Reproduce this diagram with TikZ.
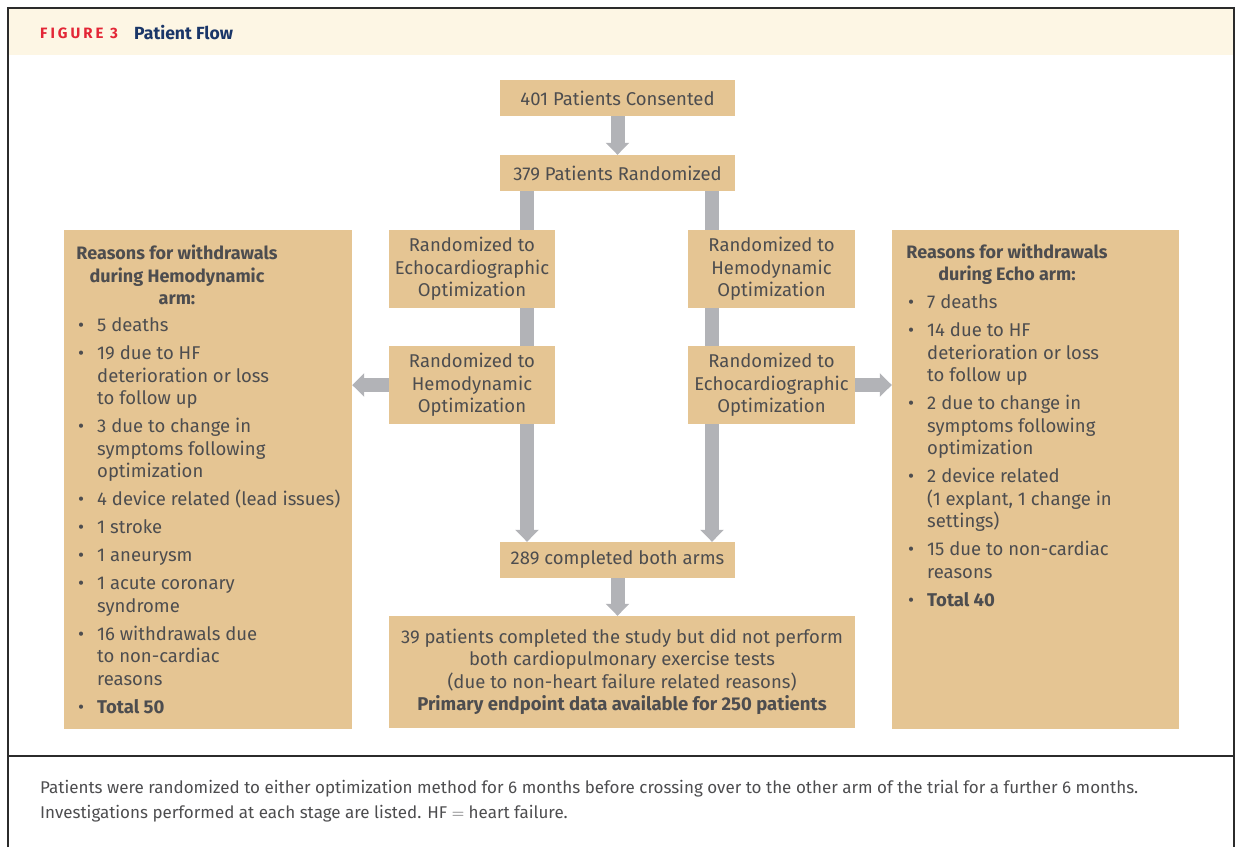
\documentclass[tikz,border=0pt]{standalone}
\usepackage{fontspec}
\setmainfont{Fira Sans}
\usetikzlibrary{arrows.meta}
\definecolor{tan}{HTML}{E5C593}
\definecolor{bar}{HTML}{B2B3B7}
\definecolor{txt}{HTML}{4D4D4F}
\definecolor{hdrbg}{HTML}{FDF6E4}
\definecolor{figred}{HTML}{E32636}
\definecolor{navy}{HTML}{1A3668}
\definecolor{frame}{HTML}{2B2B2B}
\newcommand{\bu}{\makebox[19pt][l]{\textbullet}}
\newcommand{\ind}{\hspace*{19pt}}
\begin{document}
\begin{tikzpicture}[x=1pt,y=-1pt,
  box/.style={fill=tan, draw=none, inner sep=0pt, text=txt, align=center,
    font=\fontsize{18.5}{22.5}\selectfont},
  plain/.style={inner sep=0pt, text=txt, font=\fontsize{18.5}{22.5}\selectfont},
  link/.style={draw=bar, line width=14pt, line cap=butt},
  flow/.style={link, -{Triangle[width=23pt,length=12pt]}}]
\useasboundingbox (0,0) rectangle (1237,847);
% header band and frame
\fill[hdrbg] (9,9) rectangle (1233,55);
\draw[frame, line width=2pt] (8,847) -- (8,8) -- (1234,8) -- (1234,847);
\draw[frame, line width=2pt] (8,755.5) -- (1234,755.5);
\node[anchor=west, inner sep=0pt, text=figred, font=\fontsize{15}{17}\selectfont\bfseries\addfontfeatures{LetterSpace=20}] (fig) at (40,33) {FIGURE 3};
\node[anchor=west, inner sep=0pt, text=navy, font=\fontsize{17.6}{20}\selectfont\bfseries] (title) at (134,33) {Patient Flow};

% central boxes
\node[box, minimum width=235pt, minimum height=36pt] (cons) at (617.5,98) {401 Patients Consented};
\node[box, minimum width=235pt, minimum height=36pt] (rand) at (617.5,173) {379 Patients Randomized};
\node[box, minimum width=166pt, minimum height=78pt] (echo1) at (472,269) {Randomized to\\Echocardiographic\\Optimization};
\node[box, minimum width=167pt, minimum height=78pt] (hemo1) at (771.5,269) {Randomized to\\Hemodynamic\\Optimization};
\node[box, minimum width=166pt, minimum height=78pt] (hemo2) at (472,385) {Randomized to\\Hemodynamic\\Optimization};
\node[box, minimum width=167pt, minimum height=78pt] (echo2) at (771.5,385) {Randomized to\\Echocardiographic\\Optimization};
\node[box, minimum width=235pt, minimum height=36pt] (done) at (617.5,560) {289 completed both arms};
\node[box, minimum width=466pt, minimum height=112pt] (final) at (622,672) {39 patients completed the study but did not perform\\both cardiopulmonary exercise tests\\(due to non-heart failure related reasons)\\\textbf{Primary endpoint data available for 250 patients}};

% side boxes
\node[box, minimum width=288pt, minimum height=499pt] (lbox) at (208,479.5) {};
\node[box, minimum width=287pt, minimum height=499pt] (rbox) at (1035.5,479.5) {};
\node[plain, align=center, font=\fontsize{18}{22.5}\selectfont\bfseries] (lhead) at (177,275) {Reasons for withdrawals\\during Hemodynamic\\arm:};
\node[plain, align=center, font=\fontsize{18}{22.5}\selectfont\bfseries] (rhead) at (1007,264) {Reasons for withdrawals\\during Echo arm:};
\node[plain, anchor=north west] (llist) at (78,316) {\begin{tabular}{@{}l@{}}
\bu 5 deaths\\[5.5pt]
\bu 19 due to HF\\
\ind deterioration or loss\\
\ind to follow up\\[5.5pt]
\bu 3 due to change in\\
\ind symptoms following\\
\ind optimization\\[5.5pt]
\bu 4 device related (lead issues)\\[5.5pt]
\bu 1 stroke\\[5.5pt]
\bu 1 aneurysm\\[5.5pt]
\bu 1 acute coronary\\
\ind syndrome\\[5.5pt]
\bu 16 withdrawals due\\
\ind to non-cardiac\\
\ind reasons\\[5.5pt]
\bu \textbf{Total 50}
\end{tabular}};
\node[plain, anchor=north west] (rlist) at (908,293) {\begin{tabular}{@{}l@{}}
\bu 7 deaths\\[5.5pt]
\bu 14 due to HF\\
\ind deterioration or loss\\
\ind to follow up\\[5.5pt]
\bu 2 due to change in\\
\ind symptoms following\\
\ind optimization\\[5.5pt]
\bu 2 device related\\
\ind (1 explant, 1 change in\\
\ind settings)\\[5.5pt]
\bu 15 due to non-cardiac\\
\ind reasons\\[5.5pt]
\bu \textbf{Total 40}
\end{tabular}};

% connectors
\coordinate (L) at (527,0);
\coordinate (R) at (712,0);
\draw[flow] (cons.south) -- (rand.north);
\draw[link] (rand.south -| L) -- (echo1.north -| L);
\draw[link] (echo1.south -| L) -- (hemo2.north -| L);
\draw[flow] (hemo2.south -| L) -- (done.north -| L);
\draw[link] (rand.south -| R) -- (hemo1.north -| R);
\draw[link] (hemo1.south -| R) -- (echo2.north -| R);
\draw[flow] (echo2.south -| R) -- (done.north -| R);
\draw[flow] (hemo2.west) -- (hemo2.west -| lbox.east);
\draw[flow] (echo2.east) -- (echo2.east -| rbox.west);
\draw[flow] (done.south) -- (done.south |- final.north);

% caption
\node[anchor=north west, inner sep=0pt, align=left, text=txt, font=\fontsize{17}{25}\selectfont] (cap) at (40,780) {Patients were randomized to either optimization method for 6 months before crossing over to the other arm of the trial for a further 6 months.\\Investigations performed at each stage are listed. HF $=$ heart failure.};
\end{tikzpicture}
\end{document}
